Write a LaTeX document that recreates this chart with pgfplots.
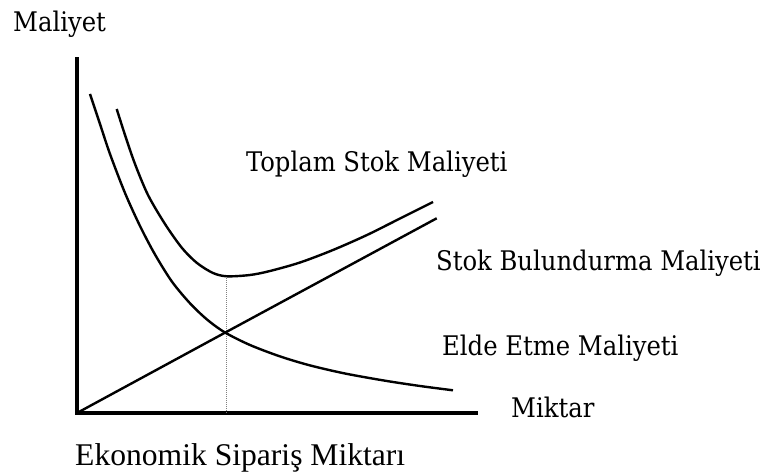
\documentclass[border=0pt]{standalone}
\usepackage{fontspec}
\setmainfont{Liberation Serif}
\newfontfamily\lbl{DejaVu Serif Condensed}
\usepackage{pgfplots}
\pgfplotsset{compat=1.18}
\begin{document}
\begin{tikzpicture}
\path[use as bounding box] (0,0) rectangle (766pt,472pt);
\begin{axis}[
  at={(77pt,59pt)}, anchor=south west,
  scale only axis, width=401pt, height=356pt,
  xmin=0, xmax=401, ymin=0, ymax=356,
  hide axis, clip=false,
]
% axes
\addplot[black, line width=3.4pt] coordinates {(-1.7,0) (401,0)};
\addplot[black, line width=3.4pt] coordinates {(0,0) (0,356)};
% dotted EOQ line
\addplot[gray, line width=0.9pt, dash pattern=on 1pt off 1pt] coordinates {(149.5,0) (149.5,136.7)};
% holding cost (Stok Bulundurma Maliyeti)
\addplot[black, line width=2.4pt] coordinates {(0,0) (148,80.3) (359.7,194.7)};
% ordering cost (Elde Etme Maliyeti)
\addplot[black, line width=2.4pt, smooth] coordinates {
(13,319) (23,289) (33,259) (48,220) (63,187) (78,158.5) (95,131.3)
(113,109.7) (130,93.5) (148,80.5) (173,68) (203,56.6) (233,47.6)
(268,39.5) (308,32.3) (343,27) (376,22.7)};
% total cost (Toplam Stok Maliyeti)
\addplot[black, line width=2.4pt, smooth] coordinates {
(39.7,304) (48,278) (58,249) (71,218) (88,189) (105,165) (120,150)
(136,140) (150,136.7) (173,138) (193,142) (223,150.5) (256,163)
(290,178) (323,194.5) (356,211)};
\end{axis}
\begin{scope}[every node/.style={inner sep=0pt, anchor=base west, text=black}]
\node[font=\lbl\fontsize{27}{31}\selectfont] at (13pt,440pt) {Maliyet};
\node[font=\lbl\fontsize{27}{31}\selectfont] at (246pt,300.3pt) {Toplam Stok Maliyeti};
\node[font=\lbl\fontsize{27}{31}\selectfont] at (436pt,202pt) {Stok Bulundurma Maliyeti};
\node[font=\lbl\fontsize{27}{31}\selectfont] at (442pt,117pt) {Elde Etme Maliyeti};
\node[font=\lbl\fontsize{27}{31}\selectfont] at (511pt,54.7pt) {Miktar};
\node[font=\fontsize{31.6}{36}\selectfont] at (75pt,7pt) {Ekonomik Sipariş Miktarı};
\end{scope}
\end{tikzpicture}
\end{document}
